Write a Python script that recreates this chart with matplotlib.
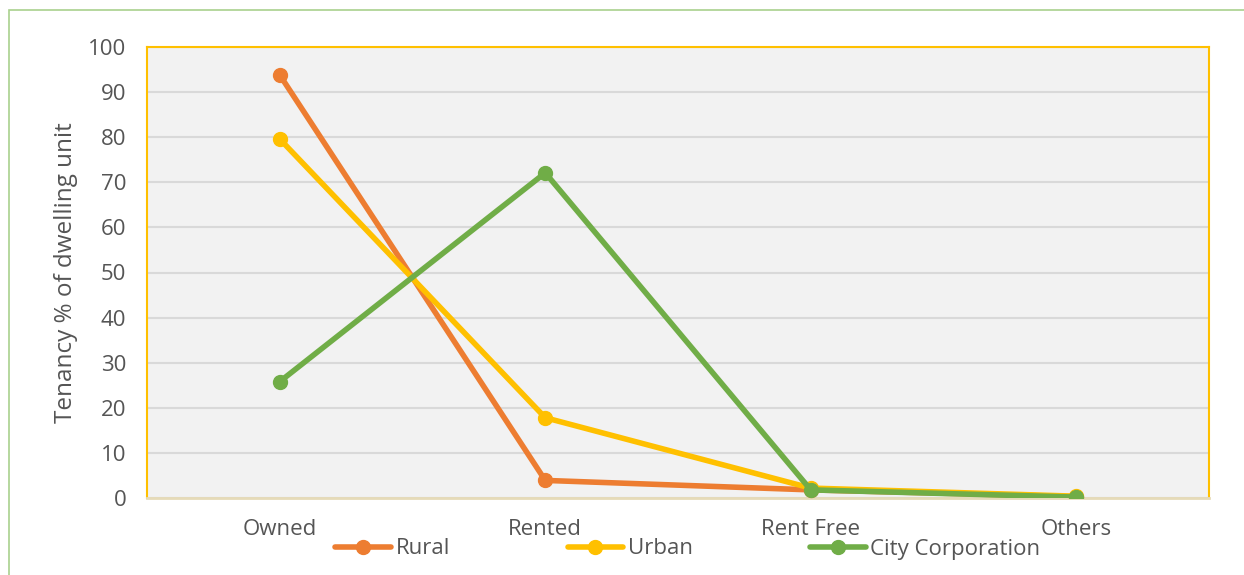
import matplotlib
matplotlib.use("Agg")
import matplotlib.pyplot as plt
from matplotlib.patches import Rectangle

categories = ["Owned", "Rented", "Rent Free", "Others"]
rural = [93.8, 3.9, 1.8, 0.3]
urban = [79.6, 17.8, 2.2, 0.4]
city = [25.8, 72.1, 1.8, 0.2]
yticks = list(range(0, 101, 10))

plt.rcParams['font.family'] = ['Open Sans', 'DejaVu Sans']
TXT = '#555555'

fig = plt.figure(figsize=(12.44, 5.75), dpi=100)
ax = fig.add_axes([147/1244, 1-498/575, (1209-147)/1244, (498-47)/575])

# outer green frame
fig.patches.append(Rectangle((9/1244, -0.1), 1.2, 1-10/575+0.1, transform=fig.transFigure,
                             fill=False, edgecolor='#A9D18E', linewidth=1.2, zorder=0))

ax.set_facecolor('#F2F2F2')
x = list(range(len(categories)))
series = [("Rural", rural, '#ED7D31'), ("Urban", urban, '#FFC000'),
          ("City Corporation", city, '#70AD47')]
for name, vals, col in series:
    ax.plot(x, vals, color=col, linewidth=4, marker='o', markersize=10,
            label=name, solid_capstyle='round', zorder=3)

ax.set_xlim(-0.5, 3.5)
ax.set_ylim(0, 100)
ax.set_yticks(yticks)
ax.set_xticks(x)
ax.set_xticklabels(categories)
ax.tick_params(axis='both', length=0, labelsize=16, colors=TXT, labelcolor=TXT)
ax.tick_params(axis='x', pad=15)
ax.tick_params(axis='y', pad=15)
ax.grid(axis='y', color='#D9D9D9', linewidth=1.5)
ax.set_axisbelow(True)
for s in ['top', 'left', 'right']:
    ax.spines[s].set_color('#FFC000')
    ax.spines[s].set_linewidth(1.5)
ax.spines['bottom'].set_color('#E6DBB8')
ax.spines['bottom'].set_linewidth(2)

ax.set_ylabel("Tenancy % of dwelling unit", fontsize=17.5, color=TXT, labelpad=7)

leg = fig.legend(loc='center', bbox_to_anchor=(688/1244, 1-549/575), ncol=3, frameon=False,
                 fontsize=16, handlelength=2.5, handletextpad=0.2, columnspacing=5.3,
                 labelcolor=TXT)

fig.savefig("out.png", dpi=100)
